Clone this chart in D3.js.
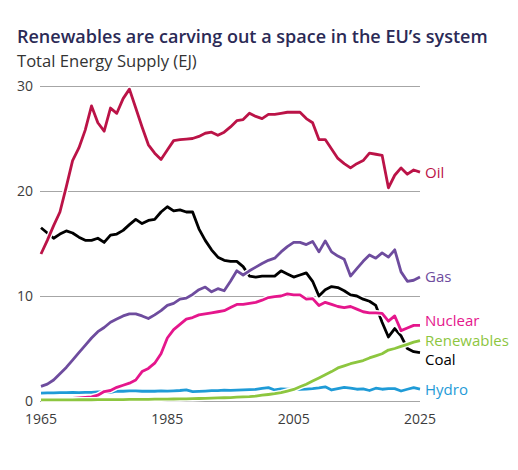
<!DOCTYPE html>
<html>
<head>
<meta charset="utf-8">
<script src="https://cdn.jsdelivr.net/npm/d3@7"></script>
<style>
  body { margin: 0; background: #fff; }
  text { font-family: "Open Sans", "Noto Sans", sans-serif; }
  .grid line { stroke: #a6a6a6; stroke-width: 1; }
  .tick-label { font-size: 14px; fill: #3c3c3c; }
</style>
</head>
<body>
<svg width="518" height="470"></svg>
<script>
// Years on the x axis
const years = d3.range(1965, 2026);

const yTicks = [0, 10, 20, 30];
const xTicks = [1965, 1985, 2005, 2025];

// Total energy supply by source, EJ (1965 .. 2025)
const oil = [
  14.0, 15.3, 16.7, 18.0, 20.4, 22.9, 24.1, 25.8, 28.1, 26.5,
  25.7, 27.9, 27.4, 28.8, 29.7, 27.9, 26.1, 24.4, 23.6, 23.0,
  23.9, 24.8, 24.9, 24.95, 25.0, 25.2, 25.5, 25.6, 25.3, 25.6,
  26.1, 26.7, 26.8, 27.4, 27.1, 26.9, 27.3, 27.3, 27.4, 27.5,
  27.5, 27.5, 26.9, 26.5, 24.9, 24.9, 24.0, 23.1, 22.6, 22.2,
  22.6, 22.9, 23.6, 23.5, 23.4, 20.3, 21.5, 22.2, 21.6, 22.0,
  21.8
];

const coal = [
  16.5, 16.0, 15.5, 15.9, 16.2, 16.0, 15.6, 15.3, 15.3, 15.5,
  15.1, 15.8, 15.9, 16.25, 16.8, 17.3, 16.9, 17.2, 17.3, 18.0,
  18.5, 18.1, 18.2, 18.0, 18.0, 16.4, 15.3, 14.4, 13.7, 13.4,
  13.3, 13.3, 12.8, 11.9, 11.8, 11.9, 11.9, 11.9, 12.4, 12.1,
  11.8, 12.0, 12.2, 11.4, 10.0, 10.6, 10.9, 10.8, 10.5, 10.1,
  10.0, 9.7, 9.5, 9.1, 7.5, 6.1, 6.9, 6.2, 5.0, 4.7,
  4.6
];

const gas = [
  1.4, 1.6, 2.0, 2.6, 3.2, 3.9, 4.6, 5.3, 6.0, 6.6,
  7.0, 7.5, 7.8, 8.1, 8.3, 8.3, 8.1, 7.85, 8.2, 8.6,
  9.1, 9.3, 9.7, 9.8, 10.15, 10.6, 10.85, 10.4, 10.7, 10.5,
  11.4, 12.4, 12.0, 12.4, 12.75, 13.1, 13.4, 13.6, 14.2, 14.7,
  15.1, 15.1, 14.9, 15.2, 14.2, 15.25, 14.2, 13.8, 13.5, 11.9,
  12.6, 13.3, 13.9, 13.6, 14.1, 13.7, 14.4, 12.3, 11.4, 11.5,
  11.8
];

const nuclear = [
  null, null, null, null, null, 0.25, 0.3, 0.35, 0.4, 0.55,
  0.9, 1.0, 1.3, 1.5, 1.7, 2.0, 2.8, 3.1, 3.6, 4.5,
  6.0, 6.8, 7.3, 7.8, 7.95, 8.2, 8.3, 8.4, 8.5, 8.6,
  8.9, 9.2, 9.2, 9.3, 9.4, 9.6, 9.85, 9.95, 10.0, 10.2,
  10.1, 10.1, 9.7, 9.75, 9.1, 9.4, 9.2, 9.0, 8.9, 9.0,
  8.75, 8.5, 8.4, 8.4, 8.35, 7.6, 8.1, 6.7, 6.95, 7.2,
  7.2
];

const renewables = [
  0.10, 0.10, 0.10, 0.11, 0.11, 0.11, 0.12, 0.12, 0.12, 0.13,
  0.13, 0.13, 0.14, 0.14, 0.15, 0.15, 0.16, 0.16, 0.17, 0.17,
  0.18, 0.19, 0.20, 0.21, 0.22, 0.24, 0.25, 0.27, 0.29, 0.31,
  0.33, 0.36, 0.39, 0.42, 0.47, 0.55, 0.62, 0.70, 0.80, 0.95,
  1.10, 1.35, 1.60, 1.90, 2.20, 2.50, 2.80, 3.15, 3.35, 3.55,
  3.70, 3.85, 4.10, 4.30, 4.50, 4.85, 5.00, 5.20, 5.40, 5.60,
  5.75
];

const hydro = [
  0.75, 0.78, 0.77, 0.80, 0.79, 0.83, 0.80, 0.83, 0.82, 0.87,
  0.86, 0.82, 0.95, 0.93, 0.96, 0.96, 0.93, 0.95, 0.93, 0.97,
  0.95, 0.97, 1.00, 1.05, 0.90, 0.92, 0.95, 0.98, 0.98, 1.03,
  1.02, 1.03, 1.05, 1.08, 1.10, 1.20, 1.27, 1.05, 1.15, 1.12,
  1.10, 1.12, 1.14, 1.18, 1.25, 1.35, 1.05, 1.18, 1.30, 1.22,
  1.12, 1.15, 1.00, 1.22, 1.12, 1.18, 1.18, 0.95, 1.12, 1.27,
  1.14
];

// drawing order matters: later lines sit on top (white halo cuts the ones below)
const series = [
  { name: "Hydro", values: hydro, color: "#1f9bd7", dy: 6 },
  { name: "Coal", values: coal, color: "#000000", dy: 12 },
  { name: "Nuclear", values: nuclear, color: "#e5168c", dy: 1 },
  { name: "Gas", values: gas, color: "#6e4c9e", dy: 5 },
  { name: "Renewables", values: renewables, color: "#8dc63f", dy: 5 },
  { name: "Oil", values: oil, color: "#bb1347", dy: 6 }
];

LineChart = function() {
  this.initVis();
};

LineChart.prototype.initVis = function() {
  let vis = this;

  vis.svg = d3.select("svg");

  vis.x = d3.scaleLinear().domain([1965, 2025]).range([41, 420]);
  vis.y = d3.scaleLinear().domain([0, 30]).range([401, 86]);

  // Title
  vis.svg
    .append("text")
    .attr("x", 17)
    .attr("y", 43)
    .attr("font-size", "18px")
    .attr("font-weight", 600)
    .attr("fill", "#2b2a56")
    .text("Renewables are carving out a space in the EU\u2019s system");

  // Sub-title
  vis.svg
    .append("text")
    .attr("x", 17)
    .attr("y", 67)
    .attr("font-size", "16.6px")
    .attr("fill", "#333")
    .text("Total Energy Supply (EJ)");

  vis.renderVis();
};

LineChart.prototype.renderVis = function() {
  let vis = this;

  // Horizontal gridlines
  vis.svg
    .append("g")
    .attr("class", "grid")
    .selectAll("line")
    .data(yTicks)
    .enter()
    .append("line")
    .attr("x1", vis.x.range()[0] - 1)
    .attr("x2", vis.x.range()[1])
    .attr("y1", function(d) { return Math.round(vis.y(d)) + 0.5; })
    .attr("y2", function(d) { return Math.round(vis.y(d)) + 0.5; });

  // Y tick labels
  vis.svg
    .append("g")
    .selectAll("text")
    .data(yTicks)
    .enter()
    .append("text")
    .attr("class", "tick-label")
    .attr("x", 33)
    .attr("y", function(d) { return vis.y(d) + 5; })
    .attr("text-anchor", "end")
    .text(function(d) { return d; });

  // X tick labels
  vis.svg
    .append("g")
    .selectAll("text")
    .data(xTicks)
    .enter()
    .append("text")
    .attr("class", "tick-label")
    .attr("x", function(d) { return vis.x(d); })
    .attr("y", 424)
    .attr("text-anchor", "middle")
    .text(function(d) { return d; });

  let line = d3
    .line()
    .defined(function(d) { return d != null; })
    .x(function(d, i) { return vis.x(years[i]); })
    .y(function(d) { return vis.y(d); });

  let lines = vis.svg.append("g").attr("class", "lines");

  series.forEach(function(s) {
    // white halo
    lines
      .append("path")
      .datum(s.values)
      .attr("fill", "none")
      .attr("stroke", "#fff")
      .attr("stroke-width", 5.5)
      .attr("stroke-linejoin", "round")
      .attr("d", line);

    lines
      .append("path")
      .datum(s.values)
      .attr("fill", "none")
      .attr("stroke", s.color)
      .attr("stroke-width", 2.8)
      .attr("stroke-linejoin", "round")
      .attr("d", line);
  });

  // End labels
  vis.svg
    .append("g")
    .selectAll("text")
    .data(series)
    .enter()
    .append("text")
    .attr("x", 425)
    .attr("y", function(d) {
      return vis.y(d.values[d.values.length - 1]) + d.dy;
    })
    .attr("font-size", "15px")
    .attr("fill", function(d) { return d.color; })
    .text(function(d) { return d.name; });
};

new LineChart();
</script>
</body>
</html>
